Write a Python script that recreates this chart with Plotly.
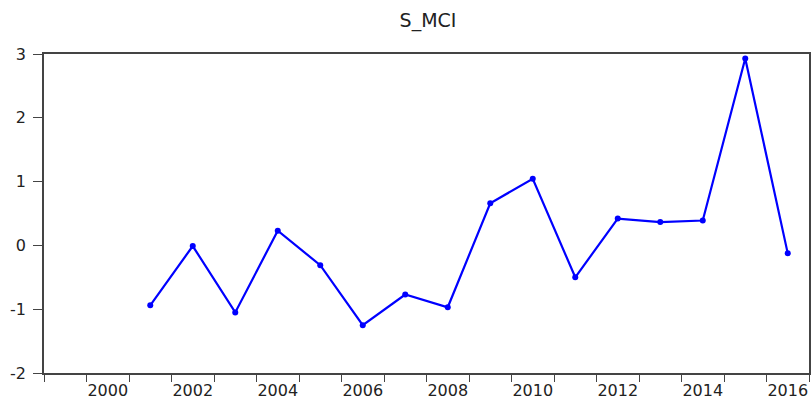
import plotly.graph_objects as go

years = list(range(2001, 2017))
s_mci = [-0.94, -0.01, -1.05, 0.23, -0.31, -1.25, -0.77, -0.97,
         0.66, 1.045, -0.50, 0.42, 0.365, 0.39, 2.93, -0.125]
x_labels = [2000, 2002, 2004, 2006, 2008, 2010, 2012, 2014, 2016]
y_ticks = [-2, -1, 0, 1, 2, 3]

fig = go.Figure()
fig.add_trace(go.Scatter(
    x=years, y=s_mci, mode="lines+markers",
    line=dict(color="#0000FF", width=2.2),
    marker=dict(color="#0000FF", size=6),
    showlegend=False,
))

font = dict(family="DejaVu Sans, Liberation Sans, Arial, sans-serif", size=16, color="#222222")
fig.update_layout(
    width=811, height=403,
    margin=dict(l=44, r=2, t=54, b=30, autoexpand=False),
    paper_bgcolor="white", plot_bgcolor="white",
    title=dict(text="S_MCI", x=428 / 811, xanchor="center", y=1 - 20 / 403, yanchor="middle",
               font=dict(family="DejaVu Sans, Liberation Sans, Arial, sans-serif", size=19, color="#222222")),
    font=font,
)
fig.update_xaxes(
    range=[1998.5, 2016.5], automargin=False,
    tickmode="array", tickvals=x_labels, ticktext=[str(v) for v in x_labels],
    ticks="", showgrid=False, zeroline=False,
    showline=True, linecolor="#444444", linewidth=1.6, mirror=True,
    tickfont=font, ticklabelstandoff=2,
    minor=dict(tick0=1998.5, dtick=1, ticks="outside", ticklen=7,
               tickcolor="#444444", tickwidth=1.3, showgrid=False),
)
fig.update_yaxes(
    range=[-2, 3], automargin=False,
    tickmode="array", tickvals=y_ticks, ticktext=[str(v) for v in y_ticks],
    ticks="outside", ticklen=9, tickcolor="#444444", tickwidth=1.3,
    showgrid=False, zeroline=False,
    showline=True, linecolor="#444444", linewidth=1.6, mirror=True,
    tickfont=font, ticklabelstandoff=4,
)

fig.write_html("out.html", config={"displayModeBar": False},
               post_script="document.body.style.margin='0';")
